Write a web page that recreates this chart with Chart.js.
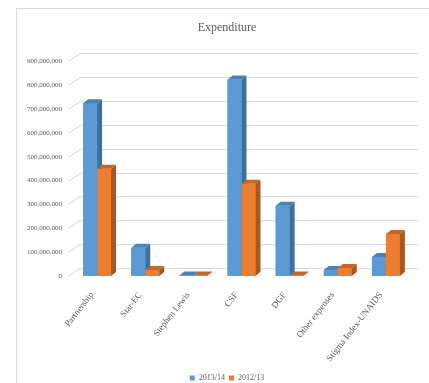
<!DOCTYPE html>
<html>
<head>
<meta charset="utf-8">
<script src="https://cdn.jsdelivr.net/npm/chart.js@4"></script>
<style>
  html, body { margin: 0; padding: 0; background: #fff; overflow: hidden; }
  #wrap { position: relative; width: 429px; height: 383px; overflow: hidden; }
  #frame { position: absolute; left: 16px; top: 8px; right: 0; bottom: 0;
           border-left: 1px solid #d9d9d9; border-top: 1px solid #d9d9d9; }
  canvas { position: absolute; left: 0; top: 0; }
</style>
</head>
<body>
<div id="wrap">
  <div id="frame"></div>
  <canvas id="chart" width="455" height="383"></canvas>
</div>
<script>
const categories = ["Partnership", "Star-EC", "Stephen Lewis", "CSF", "DGF", "Other expenses", "Stigma Index-UNAIDS"];
const seriesNames = ["2013/14", "2012/13"];
const values2013 = [725000000, 118000000, 2000000, 824000000, 295000000, 25000000, 80000000];
const values2012 = [450000000, 25000000, 2000000, 387000000, 2000000, 34000000, 176000000];

const fronts = ["#5b9bd5", "#ed7d31"];
const sides = ["#3f6f9c", "#a9561f"];
const tops = ["#4a82b8", "#c8662a"];
const DX = 5, DY = 4;       // bar depth
const WX = 12, WY = 8;      // back wall offset

// back wall gridlines like an Excel 3D column chart
const wallGrid = {
  id: "wallGrid",
  beforeDatasetsDraw(chart) {
    const ctx = chart.ctx;
    const y = chart.scales.y;
    const area = chart.chartArea;
    ctx.save();
    ctx.strokeStyle = "#d9d9d9";
    ctx.lineWidth = 1;
    y.ticks.forEach(t => {
      const py = Math.round(y.getPixelForValue(t.value)) + 0.5;
      ctx.beginPath();
      ctx.moveTo(area.left - 5, py);
      ctx.lineTo(area.left - 5 + WX, py - WY);
      ctx.lineTo(area.right + 8, py - WY);
      ctx.stroke();
    });
    ctx.restore();
  }
};

// front, side and top faces, series in order
const bars3d = {
  id: "bars3d",
  afterDatasetsDraw(chart) {
    const ctx = chart.ctx;
    ctx.save();
    chart.data.datasets.forEach((ds, i) => {
      const meta = chart.getDatasetMeta(i);
      meta.data.forEach(bar => {
        const l = bar.x - bar.width / 2, r = bar.x + bar.width / 2;
        const t = bar.y, b = bar.base;
        ctx.fillStyle = fronts[i];
        ctx.fillRect(l, t, r - l, b - t);
        ctx.fillStyle = sides[i];
        ctx.beginPath();
        ctx.moveTo(r, t); ctx.lineTo(r + DX, t - DY);
        ctx.lineTo(r + DX, b - DY); ctx.lineTo(r, b);
        ctx.closePath(); ctx.fill();
        ctx.fillStyle = tops[i];
        ctx.beginPath();
        ctx.moveTo(l, t); ctx.lineTo(l + DX, t - DY);
        ctx.lineTo(r + DX, t - DY); ctx.lineTo(r, t);
        ctx.closePath(); ctx.fill();
      });
    });
    ctx.restore();
  }
};

const serif = "'Liberation Serif', 'DejaVu Serif', serif";

new Chart(document.getElementById("chart"), {
  type: "bar",
  data: {
    labels: categories,
    datasets: [
      { label: seriesNames[0], data: values2013, backgroundColor: fronts[0], yAxisID: "y" },
      { label: seriesNames[1], data: values2012, backgroundColor: fronts[1], yAxisID: "y" }
    ]
  },
  options: {
    responsive: false,
    animation: false,
    layout: { padding: { left: 18, right: 19, top: 10, bottom: -9 } },
    categoryPercentage: 0.58,
    barPercentage: 1.0,
    plugins: {
      title: {
        display: true,
        text: "Expenditure",
        color: "#595959",
        font: { family: serif, size: 12, weight: "normal" },
        padding: { top: 11, bottom: 26 }
      },
      legend: {
        position: "bottom",
        labels: {
          boxWidth: 5, boxHeight: 5,
          color: "#595959",
          font: { family: serif, size: 8 },
          padding: 4
        }
      },
      tooltip: { enabled: false }
    },
    scales: {
      x: {
        grid: { display: false, drawTicks: false, tickLength: 0 },
        border: { display: false },
        afterFit(scale) { scale.height = 94; },
        ticks: {
          maxRotation: 52, minRotation: 52,
          padding: 14,
          labelOffset: -5,
          color: "#595959",
          font: { family: serif, size: 9 }
        }
      },
      y: {
        min: 0, max: 900000000,
        grid: { display: false, drawTicks: false, tickLength: 0 },
        border: { display: false },
        afterFit(scale) { scale.width = 55; },
        ticks: {
          stepSize: 100000000,
          padding: 11,
          color: "#595959",
          font: { family: serif, size: 7 },
          callback: v => v.toLocaleString("en-US")
        }
      },
      // empty spacer on the right so title and legend sit where the original has them
      spacer: {
        axis: "y",
        position: "right",
        grid: { display: false, drawTicks: false },
        border: { display: false },
        ticks: { display: false },
        afterFit(scale) { scale.width = 26; }
      }
    }
  },
  plugins: [wallGrid, bars3d]
});
</script>
</body>
</html>
